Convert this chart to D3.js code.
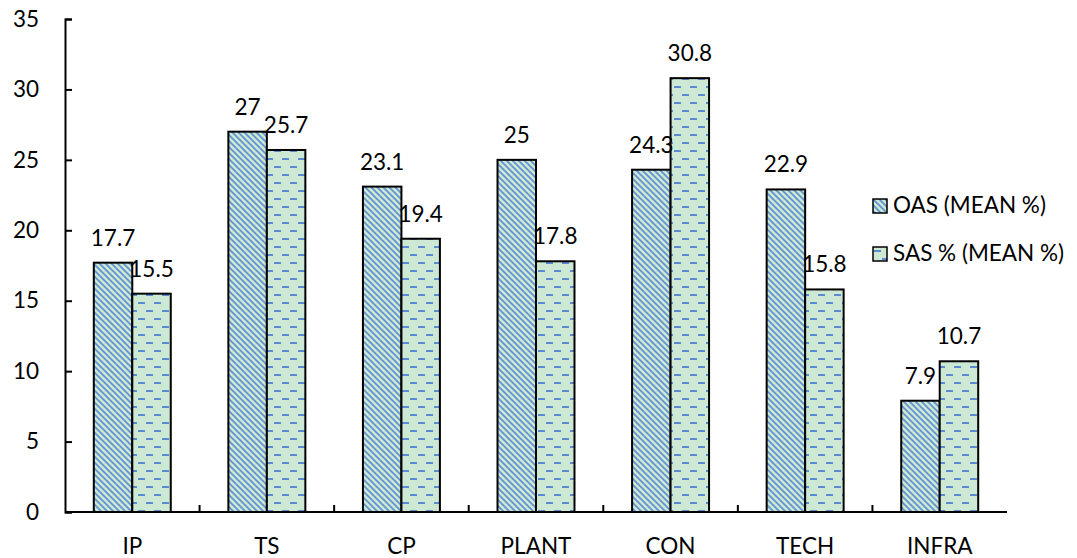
<!DOCTYPE html>
<html>
<head>
<meta charset="utf-8">
<script src="https://cdn.jsdelivr.net/npm/d3@7"></script>
<style>
  body { margin: 0; background: #fff; }
</style>
</head>
<body>
<div class="canvas"></div>
<script>
const categories = ['IP', 'TS', 'CP', 'PLANT', 'CON', 'TECH', 'INFRA'];
const oasValues = [17.7, 27, 23.1, 25, 24.3, 22.9, 7.9];
const sasValues = [15.5, 25.7, 19.4, 17.8, 30.8, 15.8, 10.7];
const seriesNames = ['OAS (MEAN %)', 'SAS % (MEAN %)'];
const yTicks = [0, 5, 10, 15, 20, 25, 30, 35];

const FONT = 'Lato, "Open Sans", sans-serif';
const FONT_SIZE = '22.5px';

const svg = d3.select('.canvas')
    .append('svg')
    .attr('width', 1077)
    .attr('height', 558)
    .style('font-family', FONT);

// plot area
const margin = { top: 19, left: 65 };
const graphWidth = 942;
const graphHeight = 493;

// fill patterns
const defs = svg.append('defs');
const hatch = defs.append('pattern')
    .attr('id', 'hatch')
    .attr('patternUnits', 'userSpaceOnUse')
    .attr('width', 6).attr('height', 6);
hatch.append('rect').attr('width', 6).attr('height', 6).attr('fill', '#cde9d3');
hatch.append('path')
    .attr('d', 'M-1,-1 L7,7 M-4,2 L1,7 M2,-4 L7,1')
    .attr('stroke', '#6493d4')
    .attr('stroke-width', 1.8);

const dash = defs.append('pattern')
    .attr('id', 'dash')
    .attr('patternUnits', 'userSpaceOnUse')
    .attr('width', 16).attr('height', 16);
dash.append('rect').attr('width', 16).attr('height', 16).attr('fill', '#cde9d3');
dash.append('rect').attr('x', 1).attr('y', 3).attr('width', 7).attr('height', 2).attr('fill', '#5b8bd2');
dash.append('rect').attr('x', 9).attr('y', 11).attr('width', 7).attr('height', 2).attr('fill', '#5b8bd2');

const graph = svg.append('g')
    .attr('transform', `translate(${margin.left},${margin.top})`);

const y = d3.scaleLinear()
    .domain([0, 35])
    .range([graphHeight, 0]);

const x = d3.scaleBand()
    .domain(categories)
    .range([0, graphWidth])
    .paddingInner(0.428)
    .paddingOuter(0.214);

const x1 = d3.scaleBand()
    .domain([0, 1])
    .range([0, x.bandwidth()]);

const fills = ['url(#hatch)', 'url(#dash)'];
const series = [oasValues, sasValues];

series.forEach((vals, s) => {
    const g = graph.append('g');
    g.selectAll('rect')
        .data(vals)
        .enter()
        .append('rect')
        .attr('x', (d, i) => x(categories[i]) + x1(s))
        .attr('y', d => y(d))
        .attr('width', x1.bandwidth())
        .attr('height', d => graphHeight - y(d))
        .attr('fill', fills[s])
        .attr('stroke', '#000')
        .attr('stroke-width', 2);
});

// value labels drawn after the bars so they sit on top
series.forEach((vals, s) => {
    graph.append('g').selectAll('text')
        .data(vals)
        .enter()
        .append('text')
        .attr('x', (d, i) => x(categories[i]) + x1(s) + x1.bandwidth() / 2)
        .attr('y', d => y(d) - 17)
        .attr('text-anchor', 'middle')
        .style('font-size', FONT_SIZE)
        .attr('fill', '#000')
        .text(d => d);
});

// y axis
const yAxis = d3.axisLeft(y)
    .tickValues(yTicks)
    .tickSize(-7)
    .tickPadding(26);
const yAxisGroup = graph.append('g').call(yAxis);
yAxisGroup.attr('font-family', null).attr('font-size', null);
yAxisGroup.select('.domain').attr('stroke-width', 2);
yAxisGroup.selectAll('line').attr('stroke-width', 2);
yAxisGroup.selectAll('text')
    .style('font-size', FONT_SIZE)
    .attr('fill', '#000');

// x axis: category labels, ticks between categories
const xAxisGroup = graph.append('g')
    .attr('transform', `translate(0, ${graphHeight})`);
xAxisGroup.append('line')
    .attr('x1', 0).attr('x2', graphWidth)
    .attr('stroke', '#000').attr('stroke-width', 2);
xAxisGroup.selectAll('.sep')
    .data(categories.slice(1))
    .enter()
    .append('line')
    .attr('x1', d => x(d) - x.step() * x.paddingInner() / 2)
    .attr('x2', d => x(d) - x.step() * x.paddingInner() / 2)
    .attr('y1', 0).attr('y2', -7)
    .attr('stroke', '#000').attr('stroke-width', 2);
xAxisGroup.selectAll('.lbl')
    .data(categories)
    .enter()
    .append('text')
    .attr('x', d => x(d) + x.bandwidth() / 2)
    .attr('y', 42)
    .attr('text-anchor', 'middle')
    .style('font-size', FONT_SIZE)
    .attr('fill', '#000')
    .text(d => d);

// legend
const legend = svg.append('g').attr('transform', 'translate(873, 199)');
seriesNames.forEach((name, i) => {
    const item = legend.append('g').attr('transform', `translate(0, ${i * 48})`);
    item.append('rect')
        .attr('width', 14).attr('height', 14)
        .attr('fill', fills[i])
        .attr('stroke', '#000')
        .attr('stroke-width', 1.5);
    item.append('text')
        .attr('x', 20).attr('y', 14)
        .style('font-size', FONT_SIZE)
        .attr('fill', '#000')
        .text(name);
});
</script>
</body>
</html>
